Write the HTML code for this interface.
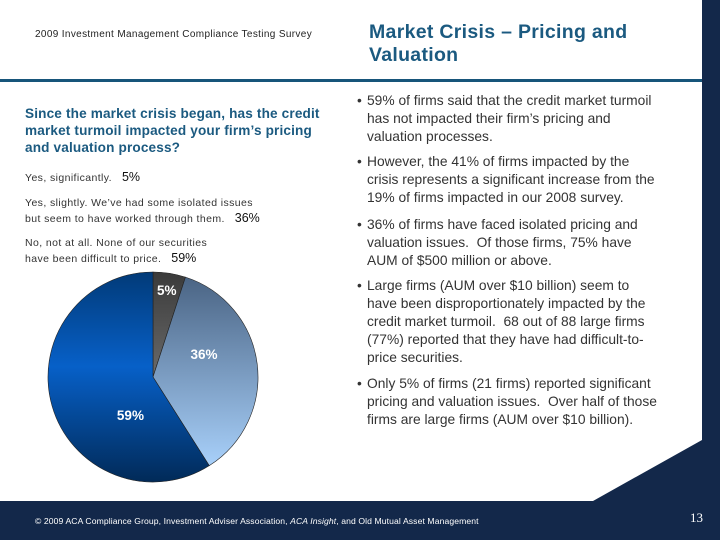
<!DOCTYPE html>
<html><head><meta charset="utf-8"><style>
body{margin:0;width:720px;height:540px;position:relative;overflow:hidden;background:#fff;font-family:"Liberation Sans",sans-serif}
.a{position:absolute;white-space:nowrap}
.b{position:absolute;left:357px;font-size:13.8px;line-height:18px;color:#333}
.b span{position:absolute;left:0;top:0}
.b div{margin-left:10px;white-space:nowrap}
.o{position:absolute;left:25px;font-size:10.5px;line-height:15px;color:#333;letter-spacing:0.4px}
.o b{font-weight:normal;font-size:12.5px;color:#111;letter-spacing:0}
</style></head><body>
<svg class="a" style="left:0;top:0" width="720" height="540">
<polygon points="0,501 593,501 702,440 702,0 720,0 720,540 0,540" fill="#13284a"/>
<rect x="0" y="79" width="702" height="3" fill="#17557a"/>
</svg>
<div class="a" style="left:35px;top:29px;font-size:10px;letter-spacing:0.35px;color:#222">2009 Investment Management Compliance Testing Survey</div>
<div class="a" style="left:369px;top:21px;font-size:19.5px;line-height:23px;font-weight:bold;color:#1b5a80;letter-spacing:0.3px">Market Crisis – Pricing and<br>Valuation</div>
<div class="a" style="left:25px;top:105px;font-size:13.6px;line-height:17px;font-weight:bold;color:#1b5a80;letter-spacing:0.15px">Since the market crisis began, has the credit<br>market turmoil impacted your firm’s pricing<br>and valuation process?</div>
<div class="o" style="top:170px">Yes, significantly. &nbsp;&nbsp;<b>5%</b></div>
<div class="o" style="top:196px">Yes, slightly. We’ve had some isolated issues<br>but seem to have worked through them. &nbsp;&nbsp;<b>36%</b></div>
<div class="o" style="top:236px">No, not at all. None of our securities<br>have been difficult to price. &nbsp;&nbsp;<b>59%</b></div>
<svg id="pie" class="a" style="left:0;top:0" width="320" height="500">
<defs>
<linearGradient id="g0" x1="0" y1="0" x2="0" y2="1"><stop offset="0" stop-color="#3a3a3a"/><stop offset="1" stop-color="#6a6a6a"/></linearGradient>
<linearGradient id="g1" x1="0" y1="0" x2="0" y2="1"><stop offset="0" stop-color="#4a6484"/><stop offset="1" stop-color="#a8d0fa"/></linearGradient>
<linearGradient id="g2" x1="0" y1="0" x2="0" y2="1"><stop offset="0" stop-color="#013a78"/><stop offset="0.45" stop-color="#0760c8"/><stop offset="1" stop-color="#012a58"/></linearGradient>
</defs>
</svg>
<div class="b" style="top:92px"><span>•</span><div>59% of firms said that the credit market turmoil<br>has not impacted their firm’s pricing and<br>valuation processes.</div></div>
<div class="b" style="top:153px"><span>•</span><div>However, the 41% of firms impacted by the<br>crisis represents a significant increase from the<br>19% of firms impacted in our 2008 survey.</div></div>
<div class="b" style="top:216px"><span>•</span><div>36% of firms have faced isolated pricing and<br>valuation issues.&nbsp; Of those firms, 75% have<br>AUM of $500 million or above.</div></div>
<div class="b" style="top:277px"><span>•</span><div>Large firms (AUM over $10 billion) seem to<br>have been disproportionately impacted by the<br>credit market turmoil.&nbsp; 68 out of 88 large firms<br>(77%) reported that they have had difficult-to-<br>price securities.</div></div>
<div class="b" style="top:375px"><span>•</span><div>Only 5% of firms (21 firms) reported significant<br>pricing and valuation issues.&nbsp; Over half of those<br>firms are large firms (AUM over $10 billion).</div></div>
<div class="a" style="left:35px;top:516px;font-size:8.6px;letter-spacing:0.1px;color:#fff">© 2009 ACA Compliance Group, Investment Adviser Association, <i>ACA Insight</i>, and Old Mutual Asset Management</div>
<div class="a" style="left:690px;top:510px;font-size:13px;color:#fff;font-family:'Liberation Serif',serif">13</div>
<script>
const sliceLabels=["5%","36%","59%"];
const sliceValues=[5,36,59];
const svg=document.getElementById('pie');
const NS='http://www.w3.org/2000/svg';
const cx=153,cy=377,r=105;
const total=sliceValues.reduce((a,b)=>a+b,0);
let acc=0;
const labelR=[88,56,44];
const labelShift=[0,-0.3,-0.75];
sliceValues.forEach((v,i)=>{
  const a0=acc/total*2*Math.PI; acc+=v; const a1=acc/total*2*Math.PI;
  const p=(a)=>[cx+r*Math.sin(a),cy-r*Math.cos(a)];
  const [x0,y0]=p(a0),[x1,y1]=p(a1);
  const path=document.createElementNS(NS,'path');
  path.setAttribute('d',`M${cx},${cy}L${x0},${y0}A${r},${r} 0 ${a1-a0>Math.PI?1:0} 1 ${x1},${y1}Z`);
  path.setAttribute('fill',`url(#g${i})`);
  path.setAttribute('stroke','#222');
  path.setAttribute('stroke-width','0.6');
  
  
  svg.appendChild(path);
  const am=(a0+a1)/2+labelShift[i];
  const t=document.createElementNS(NS,'text');
  t.setAttribute('x',cx+labelR[i]*Math.sin(am));
  t.setAttribute('y',cy-labelR[i]*Math.cos(am)+5);
  t.setAttribute('text-anchor','middle');
  t.setAttribute('fill','#fff');
  t.setAttribute('font-size','13.5');
  t.setAttribute('font-weight','bold');
  t.setAttribute('font-family','Liberation Sans, sans-serif');
  t.textContent=sliceLabels[i];
  
  
  svg.appendChild(t);
});
</script>
</body></html>
